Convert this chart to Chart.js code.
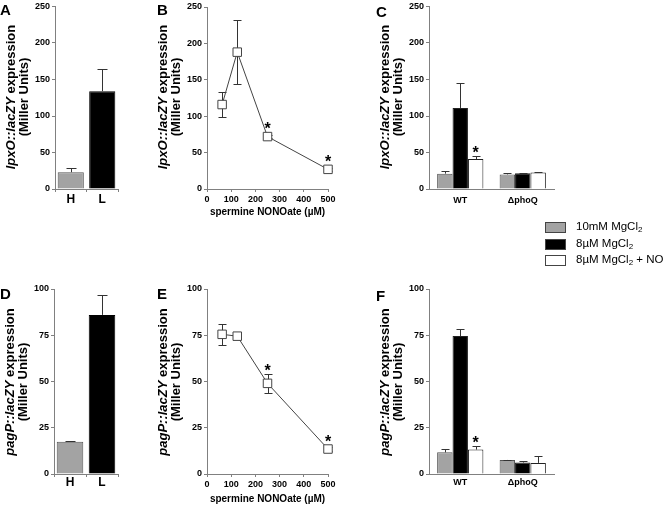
<!DOCTYPE html>
<html>
<head>
<meta charset="utf-8">
<script src="https://cdn.jsdelivr.net/npm/chart.js@4.4.1/dist/chart.umd.min.js"></script>
<style>
  body { margin: 0; background: #fff; }
  #fig { position: relative; width: 664px; height: 505px; overflow: hidden; font-family: 'Liberation Sans', Arial, sans-serif; }
  canvas { position: absolute; }
  .letter { position: absolute; font-weight: bold; font-size: 15px; }
  .ytitle { position: absolute; font-weight: bold; font-size: 13px; line-height: 13px; white-space: nowrap; text-align: center;
            transform: translate(-50%, -50%) rotate(-90deg); }
  #legend { position: absolute; left: 545px; top: 221px; font-size: 11.5px; }
  .row { position: relative; height: 16.5px; }
  .sw { position: absolute; left: 0; top: 1px; width: 19px; height: 9px; border: 1px solid #444; }
  .lab { position: absolute; left: 31px; top: -1px; white-space: nowrap; }
  sub { font-size: 8px; vertical-align: -2px; line-height: 0; }
</style>
</head>
<body>
<div id="fig">
  <canvas id="cA"></canvas><canvas id="cB"></canvas><canvas id="cC"></canvas>
  <canvas id="cD"></canvas><canvas id="cE"></canvas><canvas id="cF"></canvas>
  <div class="letter" style="left:0px;top:1px">A</div>
  <div class="letter" style="left:157px;top:1px">B</div>
  <div class="letter" style="left:376px;top:3px">C</div>
  <div class="letter" style="left:0px;top:285px">D</div>
  <div class="letter" style="left:157px;top:285px">E</div>
  <div class="letter" style="left:376px;top:287px">F</div>
  <div id="legend"></div>
</div>
<script>
// panels A / D : high vs low Mg2+
const hlLabels = ['H', 'L'];
const lpxoHL = [23, 134];
const lpxoHLErr = [6, 30];
const pagpHL = [17.5, 86];
const pagpHLErr = [0.6, 11];

// panels B / E : spermine NONOate dose
const noDoses = [62.5, 125, 250, 500];
const lpxoDose = [116, 188, 72, 27];
const lpxoDoseErr = [17, 44, 2, 2];
const lpxoDoseStar = [0, 0, 1, 1];
const pagpDose = [75.5, 74.5, 49, 13.5];
const pagpDoseErr = [5.5, 1, 5, 1];
const pagpDoseStar = [0, 0, 1, 1];

// panels C / F : strains x conditions
const strains = ['WT', '\u0394phoQ'];
const seriesNames = ['10mM MgCl2', '8\u00b5M MgCl2', '8\u00b5M MgCl2 + NO'];
const seriesColors = ['#a3a3a3', '#000000', '#ffffff'];
const lpxoHigh = [21, 20];
const lpxoHighErr = [4, 1.5];
const lpxoLow = [111, 21.5];
const lpxoLowErr = [34, 0.5];
const lpxoNO = [41, 22.5];
const lpxoNOErr = [4.5, 1];
const lpxoStar = [[0, 0], [0, 0], [1, 0]];
const pagpHigh = [11.7, 7.6];
const pagpHighErr = [1.8, 0.2];
const pagpLow = [74.6, 6.2];
const pagpLowErr = [3.6, 1];
const pagpNO = [13.2, 6];
const pagpNOErr = [2, 3.6];
const pagpStar = [[0, 0], [0, 0], [1, 0]];

Chart.defaults.font.family = "'Liberation Sans', Arial, sans-serif";
Chart.defaults.color = '#000';
const AXIS = '#808080';

const errorBars = {
  id: 'errorBars',
  beforeDatasetsDraw(chart, args, opts) { if (opts.mode === 'both') drawErr(chart, opts); },
  afterDatasetsDraw(chart, args, opts) {
    if (opts.mode !== 'both') drawErr(chart, opts);
    drawStars(chart, opts);
  }
};

function valueOf(raw) { return typeof raw === 'object' ? raw.y : raw; }

function drawErr(chart, opts) {
  if (!opts.errs) return;
  const ctx = chart.ctx, ys = chart.scales.y;
  ctx.save();
  ctx.strokeStyle = opts.color || '#333';
  ctx.lineWidth = 1;
  opts.errs.forEach((errs, di) => {
    chart.getDatasetMeta(di).data.forEach((el, i) => {
      const e = errs[i];
      if (!e) return;
      const v = valueOf(chart.data.datasets[di].data[i]);
      const x = Math.round(el.x) + 0.5;
      const top = Math.round(ys.getPixelForValue(v + e)) + 0.5;
      const bot = opts.mode === 'both' ? Math.round(ys.getPixelForValue(v - e)) + 0.5 : el.y;
      ctx.beginPath();
      ctx.moveTo(x, bot); ctx.lineTo(x, top);
      ctx.moveTo(x - opts.cap, top); ctx.lineTo(x + opts.cap, top);
      if (opts.mode === 'both') { ctx.moveTo(x - opts.cap, bot); ctx.lineTo(x + opts.cap, bot); }
      ctx.stroke();
    });
  });
  ctx.restore();
}

function drawStars(chart, opts) {
  if (!opts.stars) return;
  const ctx = chart.ctx, ys = chart.scales.y;
  ctx.save();
  ctx.font = "bold 16px 'Liberation Sans', Arial, sans-serif";
  ctx.textAlign = 'center';
  ctx.textBaseline = 'alphabetic';
  ctx.fillStyle = '#000';
  opts.stars.forEach((flags, di) => {
    chart.getDatasetMeta(di).data.forEach((el, i) => {
      if (!flags[i]) return;
      const v = valueOf(chart.data.datasets[di].data[i]);
      const e = opts.errs ? (opts.errs[di][i] || 0) : 0;
      let ref = ys.getPixelForValue(v + e);
      if (opts.markerHalf) ref = Math.min(ref, el.y - opts.markerHalf);
      ctx.fillText('*', el.x, ref + 2);
    });
  });
  ctx.restore();
}

function yAxis(max, step, w) {
  return {
    min: 0, max: max,
    ticks: { stepSize: step, font: { size: 9, weight: 'bold', lineHeight: 1 }, padding: 2 },
    grid: { drawOnChartArea: false, tickLength: 3, color: AXIS },
    border: { color: AXIS },
    afterFit: s => { s.width = w; }
  };
}

function catAxis(h, size, pad, ticks) {
  return {
    type: 'category', offset: true,
    ticks: { font: { size: size, weight: 'bold', lineHeight: 1 }, padding: pad },
    grid: { drawOnChartArea: false, drawTicks: ticks, tickLength: 3, color: AXIS, offset: true },
    border: { color: AXIS },
    afterFit: s => { s.height = h; }
  };
}

function doseAxis(h, pad) {
  return {
    type: 'linear', min: 0, max: 500,
    ticks: { stepSize: 100, font: { size: 9, weight: 'bold', lineHeight: 1 }, padding: pad },
    grid: { drawOnChartArea: false, tickLength: 3, color: AXIS },
    border: { color: AXIS },
    title: { display: true, text: 'spermine NONOate (\u00b5M)', font: { size: 10, weight: 'bold', lineHeight: 1.2 }, padding: 0 },
    afterFit: s => { s.height = h; }
  };
}

function place(id, left, top, w, h) {
  const c = document.getElementById(id);
  c.width = w; c.height = h;
  c.style.left = left + 'px'; c.style.top = top + 'px';
  c.style.width = w + 'px'; c.style.height = h + 'px';
  return c;
}

function baseOptions(pad, scales, plug) {
  return {
    responsive: false, animation: false, devicePixelRatio: 1,
    layout: { padding: pad },
    plugins: { legend: { display: false }, tooltip: { enabled: false }, errorBars: plug },
    scales: scales
  };
}

function hlChart(id, top, vals, errs, max, step, padTop, labPad) {
  const h = padTop + (max === 250 ? 184 : 185) + 20;
  new Chart(place(id, 0, top, 125, h), {
    type: 'bar',
    data: { labels: hlLabels, datasets: [{
      data: vals,
      backgroundColor: [seriesColors[0], seriesColors[1]],
      borderColor: ['#555', '#000'], borderWidth: 1,
      barPercentage: 0.83, categoryPercentage: 1
    }] },
    options: baseOptions({ top: padTop, right: 7, left: 0, bottom: 0 },
      { x: catAxis(20, 12, labPad, true), y: yAxis(max, step, id === 'cA' ? 55 : 54) },
      { errs: [errs], mode: 'up', cap: 5 }),
    plugins: [errorBars]
  });
}

function doseChart(id, top, vals, errs, stars, max, step, padTop, xh, labPad) {
  const h = padTop + (max === 250 ? 184 : 185) + xh;
  new Chart(place(id, 160, top, 180, h), {
    type: 'line',
    data: { datasets: [{
      data: noDoses.map((x, i) => ({ x: x, y: vals[i] })),
      borderColor: '#444', borderWidth: 1, clip: false,
      pointStyle: 'rect', pointRadius: 6, pointBorderWidth: 1,
      pointBackgroundColor: '#fff', pointBorderColor: '#444'
    }] },
    options: baseOptions({ top: padTop, right: 12, left: 0, bottom: 0 },
      { x: doseAxis(xh, labPad), y: yAxis(max, step, 47) },
      { errs: [errs], mode: 'both', cap: 4, stars: [stars], markerHalf: 4.5 }),
    plugins: [errorBars]
  });
}

function strainChart(id, top, series, errs, stars, max, step, padTop, labPad) {
  const h = padTop + (max === 250 ? 184 : 185) + 22;
  new Chart(place(id, 370, top, 190, h), {
    type: 'bar',
    data: { labels: strains, datasets: series.map((d, i) => ({
      label: seriesNames[i], data: d,
      backgroundColor: seriesColors[i],
      borderColor: i === 0 ? '#555' : '#222', borderWidth: 1,
      barPercentage: 1, categoryPercentage: 0.74
    })) },
    options: baseOptions({ top: padTop, right: 6, left: 0, bottom: 0 },
      { x: catAxis(22, 9, labPad, false), y: yAxis(max, step, 59) },
      { errs: errs, mode: 'up', cap: 4, stars: stars }),
    plugins: [errorBars]
  });
}

hlChart('cA', 0, lpxoHL, lpxoHLErr, 250, 50, 5, 2);
hlChart('cD', 260, pagpHL, pagpHLErr, 100, 25, 29, 0);
doseChart('cB', 0, lpxoDose, lpxoDoseErr, lpxoDoseStar, 250, 50, 5, 29, 3);
doseChart('cE', 260, pagpDose, pagpDoseErr, pagpDoseStar, 100, 25, 29, 31, 3);
strainChart('cC', 0, [lpxoHigh, lpxoLow, lpxoNO], [lpxoHighErr, lpxoLowErr, lpxoNOErr], lpxoStar, 250, 50, 5, 7);
strainChart('cF', 260, [pagpHigh, pagpLow, pagpNO], [pagpHighErr, pagpLowErr, pagpNOErr], pagpStar, 100, 25, 29, 4);

// rotated y-axis titles
const yTitles = [
  ['lpxO::lacZY', 55, 97], ['lpxO::lacZY', 207, 97], ['lpxO::lacZY', 429, 97],
  ['pagP::lacZY', 54, 381.5], ['pagP::lacZY', 207, 381.5], ['pagP::lacZY', 429, 381.5]
];
const fig = document.getElementById('fig');
yTitles.forEach(([gene, axisX, cy]) => {
  const d = document.createElement('div');
  d.className = 'ytitle';
  d.style.left = (axisX - 38.5) + 'px';
  d.style.top = cy + 'px';
  d.innerHTML = '<i>' + gene + '</i> expression<br>(Miller Units)';
  fig.appendChild(d);
});

// legend for C / F
const legend = document.getElementById('legend');
seriesNames.forEach((n, i) => {
  const r = document.createElement('div');
  r.className = 'row';
  r.innerHTML = '<div class="sw" style="background:' + seriesColors[i] + '"></div>' +
    '<div class="lab">' + n.replace('Cl2', 'Cl<sub>2</sub>') + '</div>';
  legend.appendChild(r);
});
</script>
</body>
</html>
